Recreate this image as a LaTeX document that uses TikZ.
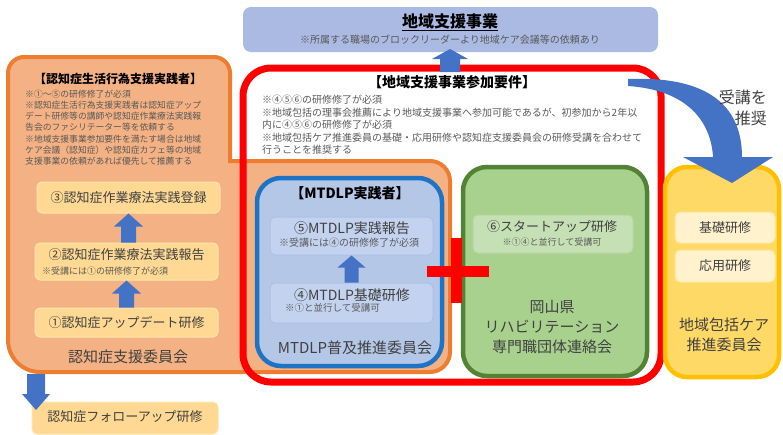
\documentclass[tikz,border=0pt]{standalone}
\usepackage{fontspec}
\setmainfont{Noto Sans CJK JP}
\usetikzlibrary{calc}
\definecolor{topfill}{HTML}{AABAE3}
\definecolor{ablue}{HTML}{4472C4}
\definecolor{orfill}{HTML}{F4B183}
\definecolor{ordraw}{HTML}{ED7D31}
\definecolor{orbox}{HTML}{FFD993}
\definecolor{orboxdraw}{HTML}{FFE5AE}
\definecolor{mtfill}{HTML}{B4C7E7}
\definecolor{mtdraw}{HTML}{1F73C4}
\definecolor{mtbox}{HTML}{C3D3EF}
\definecolor{mtboxdraw}{HTML}{ABC1E8}
\definecolor{grfill}{HTML}{A9D18E}
\definecolor{grdraw}{HTML}{548235}
\definecolor{grbox}{HTML}{C5E0B4}
\definecolor{grboxdraw}{HTML}{B6D7A0}
\definecolor{yefill}{HTML}{FFD966}
\definecolor{yedraw}{HTML}{FFC000}
\definecolor{yebox}{HTML}{FFF2CC}
\definecolor{yeboxdraw}{HTML}{FFE699}
\definecolor{lblgray}{HTML}{404040}
\definecolor{notegray}{HTML}{595959}
\definecolor{redline}{HTML}{FF0000}

\newcommand{\upblock}[5]{%
  \fill[ablue] let \p1=#1, \p2=#2 in
    ({\x2-#3},\y1) -- ({\x2-#3},{\y2-#5}) -- ({\x2-#4},{\y2-#5}) -- (\x2,\y2)
    -- ({\x2+#4},{\y2-#5}) -- ({\x2+#3},{\y2-#5}) -- ({\x2+#3},\y1) -- cycle;}
\newcommand{\downblock}[5]{%
  \fill[ablue] let \p1=#1, \p2=#2 in
    ({\x2-#3},\y1) -- ({\x2-#3},{\y2+#5}) -- ({\x2-#4},{\y2+#5}) -- (\x2,\y2)
    -- ({\x2+#4},{\y2+#5}) -- ({\x2+#3},{\y2+#5}) -- ({\x2+#3},\y1) -- cycle;}

\begin{document}
\begin{tikzpicture}[x=1pt,y=-1pt,
  panel/.style={line width=4.5pt, rounded corners=24pt},
  inbox/.style={line width=1pt, rounded corners=5pt},
  lbl/.style={text=lblgray, inner sep=0pt, align=center, font=\fontsize{15}{20}\selectfont},
  boxlbl/.style={text=lblgray, inner sep=0pt, font=\fontsize{13}{16}\selectfont},
  bigboxlbl/.style={text=lblgray, inner sep=0pt, font=\fontsize{14}{16}\selectfont},
  smallnote/.style={text=notegray, inner sep=0pt, font=\fontsize{9}{11}\selectfont},
  notes/.style={text=notegray, inner sep=0pt, align=left, anchor=north west},
  ttl/.style={text=black, inner sep=0pt}
]
\useasboundingbox (0,0) rectangle (783,434);

% top box
\node[fill=topfill, rounded corners=8pt, minimum width=415pt, minimum height=45pt, inner sep=0pt] (top) at (450.5,29.5) {};

% orange L-shaped committee area
\filldraw[fill=orfill, draw=ordraw, line width=4pt]
  (8,73) .. controls (8,64.2) and (15.2,57) .. (24,57)
  -- (214,57) .. controls (222.8,57) and (230,64.2) .. (230,73)
  -- (230,161) -- (430,161) .. controls (441,161) and (450,170) .. (450,181)
  -- (450,352) .. controls (450,363) and (441,372) .. (430,372)
  -- (40,372) .. controls (22.3,372) and (8,357.7) .. (8,340)
  -- cycle;

% red requirement frame
\node[draw=redline, line width=7pt, rounded corners=28pt, minimum width=418pt, minimum height=314pt, inner sep=0pt] (red) at (452,225) {};

% panels
\node[panel, fill=mtfill, draw=mtdraw, minimum width=185pt, minimum height=188pt, inner sep=0pt] (mt) at (349.5,272) {};
\node[panel, fill=grfill, draw=grdraw, minimum width=184pt, minimum height=209pt, inner sep=0pt] (gr) at (555,271.5) {};
\node[panel, rounded corners=22pt, fill=yefill, draw=yedraw, minimum width=114pt, minimum height=210pt, inner sep=0pt] (ye) at (722,272) {};

% orange inner boxes
\node[inbox, fill=orbox, draw=orboxdraw, minimum width=183pt, minimum height=31pt, inner sep=0pt] (b3) at (128.5,197.5) {};
\node[inbox, fill=orbox, draw=orboxdraw, minimum width=183pt, minimum height=37pt, inner sep=0pt] (b2) at (126.5,261.5) {};
\node[inbox, fill=orbox, draw=orboxdraw, minimum width=183pt, minimum height=29pt, inner sep=0pt] (b1) at (126.5,322.5) {};
\node[inbox, fill=orbox, draw=orboxdraw, minimum width=186pt, minimum height=32pt, inner sep=0pt] (fu) at (125,418) {};

% MTDLP inner boxes
\node[inbox, fill=mtbox, draw=mtboxdraw, minimum width=163pt, minimum height=38pt, inner sep=0pt] (b5) at (351.5,236) {};
\node[inbox, fill=mtbox, draw=mtboxdraw, minimum width=163pt, minimum height=40pt, inner sep=0pt] (b4) at (351.5,303) {};

% green inner box
\node[inbox, fill=grbox, draw=grboxdraw, minimum width=160pt, minimum height=38pt, inner sep=0pt] (b6) at (553,234) {};

% yellow inner boxes
\node[inbox, fill=yebox, draw=yeboxdraw, minimum width=100pt, minimum height=31pt, inner sep=0pt] (kiso) at (725,227.5) {};
\node[inbox, fill=yebox, draw=yeboxdraw, minimum width=100pt, minimum height=32pt, inner sep=0pt] (oyo) at (725,266) {};

% red cross
\fill[redline] (427,265.5) rectangle (489,276.5);
\fill[redline] (451,238) rectangle (462,303);

% block arrows
\upblock{(b2.north)}{(b3.south)}{7.5pt}{14.5pt}{13pt}
\upblock{(b1.north)}{(b2.south)}{7.5pt}{14.5pt}{13pt}
\upblock{(b4.north)}{(b5.south)}{7pt}{14pt}{12pt}
\coordinate (redtop) at (450,72);
\coordinate (toptip) at (450,49);
\upblock{(redtop)}{(toptip)}{10pt}{18pt}{10pt}
\coordinate (ortail) at (35,374);
\coordinate (futip) at (36,410);
\downblock{(ortail)}{(futip)}{9pt}{14pt}{16pt}

% curved arrow to yellow committee
\coordinate (cstart) at (628,79);
\coordinate (ctip) at (732,183);
\fill[ablue] (cstart) .. controls (700,76) and (742,100) .. (742,157) -- (773,157) -- (ctip)
  -- (683,157) -- (713,157) .. controls (711,122) and (688,90) .. (628,86) -- cycle;

% texts
\node[ttl, font=\bfseries\fontsize{16}{18}\selectfont] (toptitle) at (450,22) {\underline{地域支援事業}};
\node[smallnote, font=\fontsize{10}{12}\selectfont] (topsub) at (450,40) {※所属する職場のブロックリーダーより地域ケア会議等の依頼あり};

\node[ttl, font=\bfseries\fontsize{14}{16}\selectfont] (redtitle) at (452,82) {【地域支援事業参加要件】};
\node[notes, font=\fontsize{10}{12.5}\selectfont] (rednotes) at (262,95) {※④⑤⑥の研修修了が必須\\
※地域包括の理事会推薦により地域支援事業へ参加可能であるが、初参加から2年以\\
内に④⑤⑥の研修修了が必須\\
※地域包括ケア推進委員の基礎・応用研修や認知症支援委員会の研修受講を合わせて\\
行うことを推奨する};

\node[ttl, font=\bfseries\fontsize{12}{14}\selectfont] (ortitle) at (118,79) {【認知症生活行為支援実践者】};
\node[notes, font=\fontsize{8.8}{11.1}\selectfont] (ornotes) at (25,90) {※①～⑤の研修修了が必須\\
※認知症生活行為支援実践者は認知症アップ\\
デート研修等の講師や認知症作業療法実践報\\
告会のファシリテーター等を依頼する\\
※地域支援事業参加要件を満たす場合は地域\\
ケア会議（認知症）や認知症カフェ等の地域\\
支援事業の依頼があれば優先して推薦する};

\node[boxlbl] (t3) at (b3) {③認知症作業療法実践登録};
\node[boxlbl] (t2) at (126.5,255) {②認知症作業療法実践報告};
\node[smallnote, anchor=west] (n2) at (42,271) {※受講には①の研修修了が必須};
\node[boxlbl] (t1) at (b1) {①認知症アップデート研修};
\node[lbl] (orcomm) at (128,357) {認知症支援委員会};
\node[boxlbl] (tfu) at (125,417) {認知症フォローアップ研修};

\node[ttl, font=\bfseries\fontsize{14}{16}\selectfont] (mttitle) at (350,193) {【MTDLP実践者】};
\node[bigboxlbl] (t5) at (352,228) {⑤MTDLP実践報告};
\node[smallnote, font=\fontsize{10}{12}\selectfont] (n5) at (349,243) {※受講には④の研修修了が必須};
\node[bigboxlbl] (t4) at (352,295) {④MTDLP基礎研修};
\node[smallnote, font=\fontsize{9.5}{11}\selectfont, anchor=west] (n4) at (285,308) {※①と並行して受講可};
\node[lbl] (mtcomm) at (355,348) {MTDLP普及推進委員会};

\node[boxlbl] (t6) at (552,227) {⑥スタートアップ研修};
\node[smallnote] (n6) at (552,242) {※①④と並行して受講可};
\node[lbl] (grcomm) at (552,327) {岡山県\\リハビリテーション\\専門職団体連絡会};

\node[boxlbl] (tkiso) at (kiso) {基礎研修};
\node[boxlbl] (toyo) at (oyo) {応用研修};
\node[lbl] (yecomm) at (724,335) {地域包括ケア\\推進委員会};

\node[lbl, align=right, anchor=east, font=\fontsize{16}{21}\selectfont] (recommend) at (767,108) {受講を\\推奨};

\end{tikzpicture}
\end{document}
